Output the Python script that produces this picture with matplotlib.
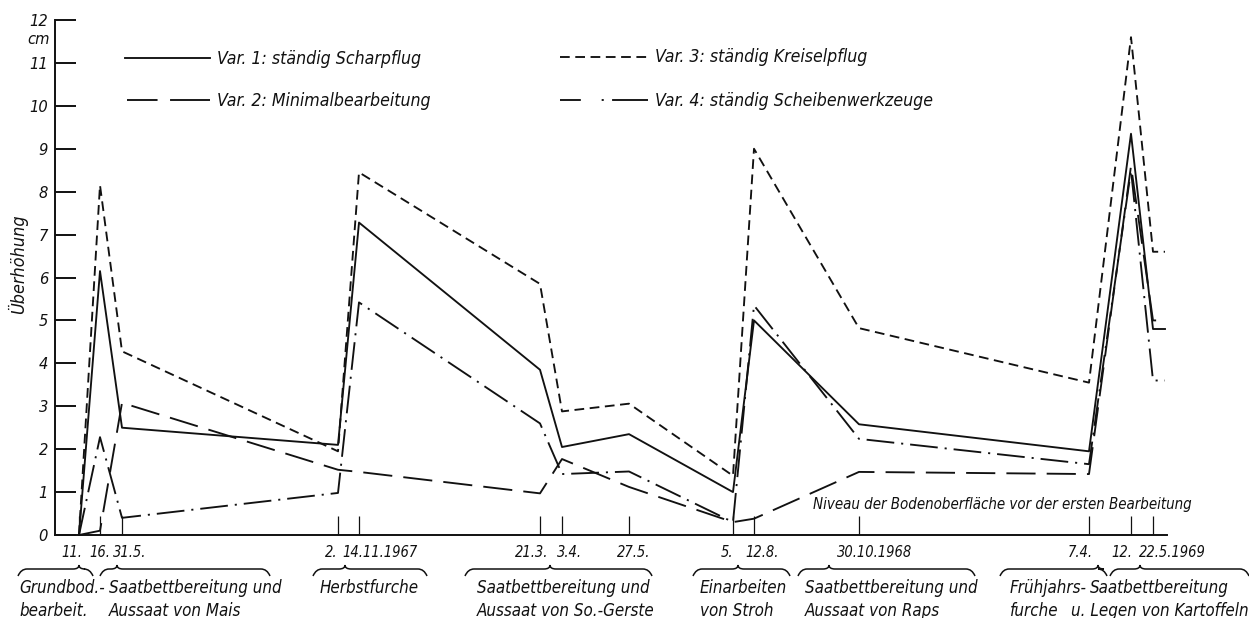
import matplotlib
matplotlib.use('Agg')
import matplotlib.pyplot as plt
import matplotlib.transforms as mtransforms
from matplotlib import font_manager as fm
from matplotlib.path import Path
from matplotlib.patches import PathPatch
from matplotlib.textpath import TextPath

plt.rcParams['lines.scale_dashes'] = False

# position of each sampling date along the (stretched) time axis
x_pos = [2.4, 4.5, 6.7, 28.3, 30.4, 48.5, 50.7, 57.4, 67.8, 69.9, 80.4, 103.4, 107.6, 109.8, 111.0]
date_labels = ['11.', '16.', '31.5.', '2.', '14.11.1967', '21.3.', '3.4.', '27.5.',
               '5.', '12.8.', '30.10.1968', '7.4.', '12.', '22.5.1969']

# Überhöhung in cm for each variant
var1 = [0, 6.15, 2.5, 2.1, 7.28, 3.85, 2.05, 2.35, 1.0, 5.0, 2.58, 1.95, 9.35, 4.8, 4.8]
var2 = [0, 0.1, 3.08, 1.52, 1.47, 0.97, 1.77, 1.12, 0.3, 0.38, 1.47, 1.42, 8.6, 5.0, 5.0]
var3 = [0, 8.15, 4.28, 1.95, 8.45, 5.85, 2.88, 3.06, 1.38, 9.0, 4.82, 3.55, 11.6, 6.6, 6.6]
var4 = [0, 2.28, 0.4, 0.98, 5.42, 2.6, 1.42, 1.48, 0.3, 5.35, 2.24, 1.65, 8.5, 3.6, 3.6]

var_names = ['Var. 1: ständig Scharpflug', 'Var. 2: Minimalbearbeitung',
             'Var. 3: ständig Kreiselpflug', 'Var. 4: ständig Scheibenwerkzeuge']

# working steps: label, brace start, brace tip, brace end
groups = [
    ('Grundbod.-\nbearbeit.', -3.7, 2.4, 3.8),
    ('Saatbettbereitung und\nAussaat von Mais', 4.5, 6.2, 21.5),
    ('Herbstfurche', 25.8, 29.0, 37.2),
    ('Saatbettbereitung und\nAussaat von So.-Gerste', 41.0, 49.5, 59.7),
    ('Einarbeiten\nvon Stroh', 63.8, 68.3, 73.5),
    ('Saatbettbereitung und\nAussaat von Raps', 74.3, 77.4, 92.0),
    ('Frühjahrs-\nfurche', 94.5, 104.3, 105.2),
    ('Saatbettbereitung\nu. Legen von Kartoffeln', 105.5, 108.5, 119.4),
]
group_text_x = [-3.6, 5.4, 26.5, 42.2, 64.5, 75.0, 95.5, 112.1]
group_text_ha = ['left', 'left', 'left', 'left', 'left', 'left', 'left', 'center']

# date label anchoring: alignment and pixel shift from the tick
label_ha = ['right', 'center', 'left', 'right', 'left', 'right', 'left', 'center',
            'right', 'left', 'left', 'right', 'right', 'left']
label_dx = [3, 0, -9, -1, -17, 8, -5, 5, 0, -9, -22, 4, 1, -14]


def narrow_italic():
    # a condensed italic face suits the lettering best
    found = []
    for f in fm.fontManager.ttflist:
        stretch = str(f.stretch).lower()
        name = (f.name + ' ' + f.fname).lower()
        if 'extra' in name or 'ultra' in name:
            continue
        narrow = stretch in ('condensed', 'semi-condensed') or 'narrow' in name \
            or 'condensed' in name
        if not narrow or f.style not in ('italic', 'oblique'):
            continue
        w = f.weight if isinstance(f.weight, int) else fm.weight_dict.get(f.weight, 400)
        if w != 400:
            continue
        if 'liberation' in name:
            rank = 0
        elif 'noto' in name:
            rank = 2 if 'semi' in name else 1
        elif 'dejavu' in name:
            rank = 3
        else:
            rank = 4
        found.append((rank, f.fname))
    return sorted(found)[0][1] if found else None


font_file = narrow_italic()


def fp(size):
    if font_file:
        return fm.FontProperties(fname=font_file, size=size)
    return fm.FontProperties(family='DejaVu Sans', style='oblique', size=size)


def text_px(text, size):
    return TextPath((0, 0), text, prop=fp(size)).get_extents().width / 0.72


def size_for(text, width_px, height_pt=None):
    # halfway between the size matching the lettering height and the one matching its width
    by_width = 10 * width_px / text_px(text, 10)
    if height_pt is None:
        return by_width
    return 0.5 * (by_width + height_pt)


tick_size = size_for('14.11.1967', 65, 11.8)
legend_size = size_for('Var. 4: ständig Scheibenwerkzeuge', 257, 13.5)
group_size = size_for('Saatbettbereitung und', 153, 13.5)
niveau_text = 'Niveau der Bodenoberfläche vor der ersten Bearbeitung'
niveau_size = size_for(niveau_text, 378)
ylabel_size = size_for('Überhöhung', 100, 12.5)

ink = '#111111'
styles = [
    dict(linestyle='-'),
    dict(linestyle=(0, (21, 8))),
    dict(linestyle=(0, (7, 4))),
    dict(linestyle=(0, (20, 5, 1.5, 5))),
]
legend_styles = [
    dict(linestyle='-'),
    dict(linestyle=(0, (22, 9, 40, 9))),
    dict(linestyle=(0, (7, 4))),
    dict(linestyle=(0, (15, 15, 1.5, 6, 30, 6))),
]

fig = plt.figure(figsize=(12.49, 6.18), dpi=100)
ax = fig.add_axes([55 / 1249, 83 / 618, 1112 / 1249, 515 / 618])

for ys, st in zip([var1, var2, var3, var4], styles):
    ax.plot(x_pos, ys, color=ink, lw=1.35, clip_on=False, **st)

ax.set_xlim(0, 111.2)
ax.set_ylim(0, 12)
for s in ['top', 'right']:
    ax.spines[s].set_visible(False)
for s in ['left', 'bottom']:
    ax.spines[s].set_linewidth(1.4)
    ax.spines[s].set_color(ink)

ax.set_yticks(range(13))
ax.set_yticklabels([str(v) for v in range(13)])
for lab in ax.get_yticklabels():
    lab.set_fontproperties(fp(11.8))
ax.tick_params(axis='y', direction='in', length=15, width=1.4, pad=5, colors=ink)
ax.set_xticks(x_pos[:-1])
ax.set_xticklabels([])
ax.tick_params(axis='x', direction='in', length=14, width=0.9, colors=ink)

for xv, lab, ha, dx in zip(x_pos, date_labels, label_ha, label_dx):
    ax.annotate(lab, xy=(xv, 0), xytext=(dx, -22), textcoords='offset pixels',
                ha=ha, va='baseline', fontproperties=fp(tick_size), color=ink,
                annotation_clip=False)

ax.text(-0.5, 11.55, 'cm', ha='right', va='center', fontproperties=fp(11.8), color=ink)
fig.text(18 / 1249, 1 - 264 / 618, 'Überhöhung', rotation=90, ha='center', va='center',
         fontproperties=fp(ylabel_size), color=ink)

# legend drawn as two rows of sample lines
leg = [(0.063, 0.139, 58, 63.5), (0.065, 0.139, 100, 105.5),
       (0.454, 0.533, 57, 62.5), (0.454, 0.533, 100, 105.5)]
for (x0, x1, yl, yt), st, name in zip(leg, legend_styles, var_names):
    ax.plot([x0, x1], [(535 - yl) / 515] * 2, transform=ax.transAxes, color=ink,
            lw=1.35, **st)
    ax.text(x1 + 0.007, (535 - yt) / 515, name, transform=ax.transAxes, ha='left',
            va='baseline', fontproperties=fp(legend_size), color=ink)

ax.text(1.022, (535 - 509) / 515, niveau_text, transform=ax.transAxes, ha='right',
        va='baseline', fontproperties=fp(niveau_size), color=ink)

# curly braces grouping the working steps
trans = mtransforms.blended_transform_factory(ax.transData, ax.transAxes)
yb = -34 / 515
up = 4 / 515
dn = 7 / 515
for (label, x0, tip, x1), tx, ha in zip(groups, group_text_x, group_text_ha):
    verts = [(x0, yb - dn), (x0 + 0.3, yb), (x0 + 0.9, yb),
             (tip - 0.6, yb), (tip, yb), (tip, yb + up),
             (tip, yb), (tip + 0.6, yb),
             (x1 - 0.9, yb), (x1 - 0.3, yb), (x1, yb - dn)]
    codes = [Path.MOVETO, Path.CURVE3, Path.CURVE3,
             Path.LINETO, Path.CURVE3, Path.CURVE3,
             Path.CURVE3, Path.CURVE3,
             Path.LINETO, Path.CURVE3, Path.CURVE3]
    ax.add_patch(PathPatch(Path(verts, codes), transform=trans, fill=False,
                           edgecolor=ink, lw=1.1, clip_on=False))
    lines = label.split('\n')
    if ha == 'center':
        # keep the centred block inside the figure's right edge (1 unit = 10 px)
        half = max(text_px(s, group_size) for s in lines) / 20
        tx = min(tx, (1247 - 55) / 10 - half)
    for i, line in enumerate(lines):
        ax.text(tx, (535 - 593 - 23 * i) / 515, line, transform=trans, ha=ha,
                va='baseline', fontproperties=fp(group_size), color=ink)

fig.savefig('out.png', dpi=100, facecolor='white')
